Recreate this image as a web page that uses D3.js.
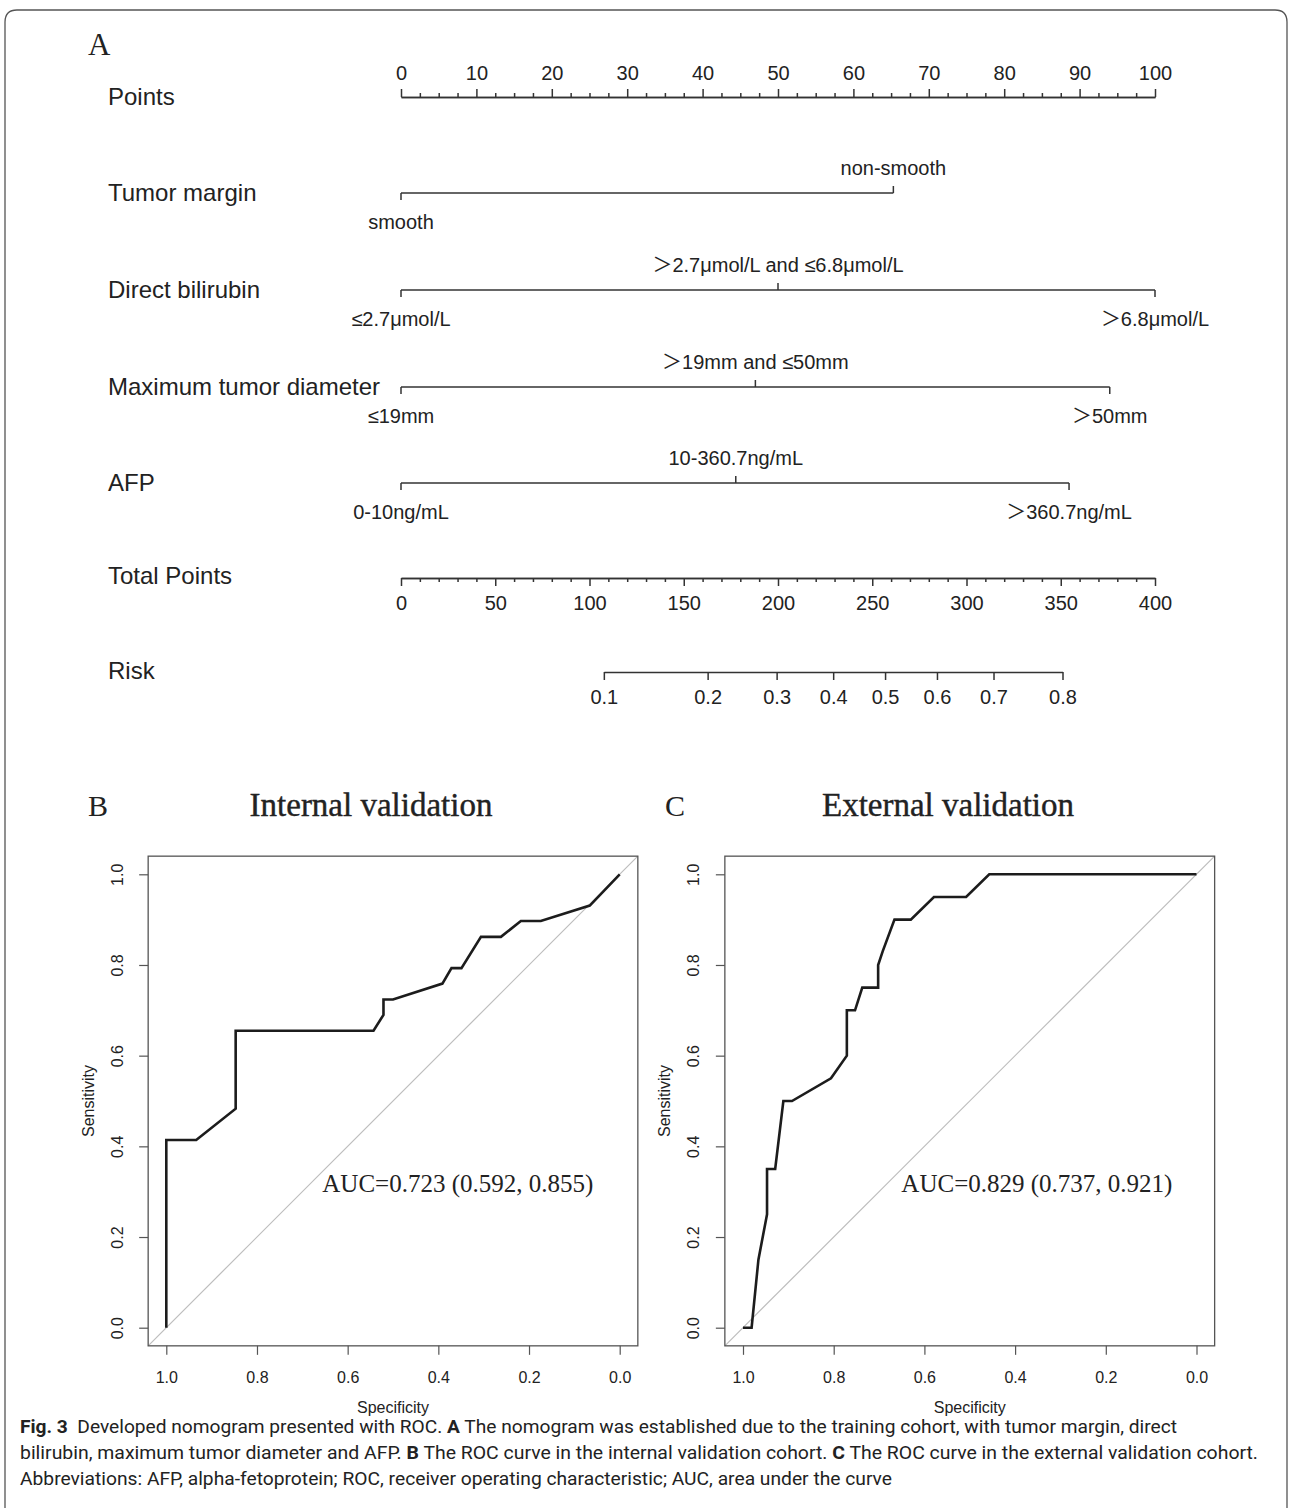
<!DOCTYPE html>
<html>
<head>
<meta charset="utf-8">
<script src="https://cdn.jsdelivr.net/npm/d3@7"></script>
<style>
	body { margin: 0; background: #fff; }
	svg { display: block; }
	text { fill: #222; }
</style>
</head>
<body>
<svg id="fig" width="1290" height="1508"></svg>
<script>
// Nomogram scales (tick labels)
const pointsTicks = [0, 10, 20, 30, 40, 50, 60, 70, 80, 90, 100];
const pointsMinorStep = 2.5;
const totalPointsTicks = [0, 50, 100, 150, 200, 250, 300, 350, 400];
const totalMinorStep = 10;
const riskTicks = [0.1, 0.2, 0.3, 0.4, 0.5, 0.6, 0.7, 0.8];
// total points where risk = 0.5 and points per unit of log-odds
const riskMidPoints = 256.8;
const pointsPerLogit = 67.9;

// Nomogram variables
const variableNames = ["Tumor margin", "Direct bilirubin", "Maximum tumor diameter", "AFP"];
const tumorMarginLevels = ["smooth", "non-smooth"];
const tumorMarginPoints = [0, 65.3];
const bilirubinLevels = ["≤2.7μmol/L", "＞2.7μmol/L and ≤6.8μmol/L", "＞6.8μmol/L"];
const bilirubinPoints = [0, 50, 100];
const diameterLevels = ["≤19mm", "＞19mm and ≤50mm", "＞50mm"];
const diameterPoints = [0, 47, 94];
const afpLevels = ["0-10ng/mL", "10-360.7ng/mL", "＞360.7ng/mL"];
const afpPoints = [0, 44.4, 88.6];

// ROC curves (specificity, sensitivity)
const internalSpec = [1, 1, 0.934, 0.847, 0.847, 0.543, 0.521, 0.521, 0.5, 0.391, 0.371, 0.349, 0.306, 0.262, 0.218, 0.174, 0.066, 0];
const internalSens = [0, 0.414, 0.414, 0.483, 0.655, 0.655, 0.69, 0.724, 0.724, 0.759, 0.793, 0.793, 0.862, 0.862, 0.897, 0.897, 0.931, 1];
const externalSpec = [1, 0.981, 0.966, 0.947, 0.947, 0.929, 0.911, 0.892, 0.806, 0.771, 0.771, 0.753, 0.737, 0.702, 0.702, 0.692, 0.666, 0.63, 0.579, 0.508, 0.457, 0];
const externalSens = [0, 0, 0.15, 0.25, 0.35, 0.35, 0.5, 0.5, 0.55, 0.6, 0.7, 0.7, 0.75, 0.75, 0.8, 0.83, 0.9, 0.9, 0.95, 0.95, 1, 1];
const internalAuc = "AUC=0.723 (0.592, 0.855)";
const externalAuc = "AUC=0.829 (0.737, 0.921)";
const rocTicks = [1, 0.8, 0.6, 0.4, 0.2, 0];

const svg = d3.select('#fig');
const sans = "'Liberation Sans', Arial, 'Noto Sans CJK SC', sans-serif";
const serif = "'Liberation Serif', 'Times New Roman', serif";
const ink = '#333';

// outer frame, open at the bottom
svg.append('path')
	.attr('d', 'M5,1508 L5,22 Q5,10 17,10 L1275,10 Q1287,10 1287,22 L1287,1508')
	.attr('fill', 'none')
	.attr('stroke', '#555')
	.attr('stroke-width', 1.3);

// ---------- A: nomogram ----------
const nomo = svg.append('g');
const pts = d3.scaleLinear().domain([0, 100]).range([401, 1155]);
const total = d3.scaleLinear().domain([0, 400]).range([401, 1155]);
const logit = (p) => Math.log(p / (1 - p));

nomo.append('text').attr('x', 88).attr('y', 55)
	.style('font-family', serif).style('font-size', '31px').text('A');

const rowLabel = (txt, y) => nomo.append('text')
	.attr('x', 108).attr('y', y).attr('dy', '0.35em')
	.style('font-family', sans).style('font-size', '24px').text(txt);

const styleAxis = (g) => {
	g.selectAll('path, line').attr('stroke', ink).attr('stroke-width', 1.5);
	g.selectAll('text').style('font-family', sans).style('font-size', '20px').attr('fill', '#222');
};

// Points
rowLabel('Points', 97);
const minorPts = d3.range(0, 100.01, pointsMinorStep).filter(v => !pointsTicks.includes(v));
nomo.append('g').attr('transform', 'translate(0,97)')
	.call(d3.axisTop(pts).tickValues(minorPts).tickSize(4).tickSizeOuter(0).tickFormat(''))
	.call(styleAxis);
nomo.append('g').attr('transform', 'translate(0,97)')
	.call(d3.axisTop(pts).tickValues(pointsTicks).tickSize(8).tickSizeOuter(0).tickPadding(9))
	.call(styleAxis);

// Variable rows
const rows = [
	{ name: variableNames[0], levels: tumorMarginLevels, points: tumorMarginPoints, y: 193 },
	{ name: variableNames[1], levels: bilirubinLevels, points: bilirubinPoints, y: 290 },
	{ name: variableNames[2], levels: diameterLevels, points: diameterPoints, y: 387 },
	{ name: variableNames[3], levels: afpLevels, points: afpPoints, y: 483 }
];
for (let r of rows) {
	rowLabel(r.name, r.y);
	let g = nomo.append('g');
	g.append('line')
		.attr('x1', pts(d3.min(r.points))).attr('x2', pts(d3.max(r.points)))
		.attr('y1', r.y).attr('y2', r.y)
		.attr('stroke', ink).attr('stroke-width', 1.5);
	r.levels.forEach((lv, i) => {
		let below = i % 2 === 0;
		let x = pts(r.points[i]);
		g.append('line')
			.attr('x1', x).attr('x2', x)
			.attr('y1', r.y).attr('y2', below ? r.y + 7 : r.y - 7)
			.attr('stroke', ink).attr('stroke-width', 1.5);
		g.append('text')
			.attr('x', x).attr('y', below ? r.y + 36 : r.y - 18)
			.attr('text-anchor', 'middle')
			.style('font-family', sans).style('font-size', '20px')
			.text(lv);
	});
}

// Total Points
rowLabel('Total Points', 576);
const minorTotal = d3.range(0, 400.01, totalMinorStep).filter(v => !totalPointsTicks.includes(v));
nomo.append('g').attr('transform', 'translate(0,578)')
	.call(d3.axisBottom(total).tickValues(minorTotal).tickSize(4).tickSizeOuter(0).tickFormat(''))
	.call(styleAxis);
nomo.append('g').attr('transform', 'translate(0,578)')
	.call(d3.axisBottom(total).tickValues(totalPointsTicks).tickSize(8).tickSizeOuter(0).tickPadding(10))
	.call(styleAxis);

// Risk
rowLabel('Risk', 671);
const riskLo = logit(riskTicks[0]), riskHi = logit(riskTicks[riskTicks.length - 1]);
const riskScale = d3.scaleLinear()
	.domain([riskLo, riskHi])
	.range([total(riskMidPoints + pointsPerLogit * riskLo), total(riskMidPoints + pointsPerLogit * riskHi)]);
nomo.append('g').attr('transform', 'translate(0,672)')
	.call(d3.axisBottom(riskScale).tickValues(riskTicks.map(logit)).tickSize(8).tickSizeOuter(0).tickPadding(10)
		.tickFormat((d, i) => riskTicks[i]))
	.call(styleAxis);

// ---------- B, C: ROC panels ----------
const drawRoc = (opts) => {
	let g = svg.append('g');
	let x = d3.scaleLinear().domain([1, 0]).range(opts.xRange);
	let y = d3.scaleLinear().domain([0, 1]).range([1327.7, 874.3]);

	g.append('text').attr('x', opts.letterX).attr('y', 816)
		.style('font-family', serif).style('font-size', '30px').text(opts.letter);
	g.append('text').attr('x', opts.titleX).attr('y', 816).attr('text-anchor', 'middle')
		.style('font-family', serif).style('font-size', '33px')
		.attr('stroke', '#222').attr('stroke-width', 0.4)
		.text(opts.title);

	// diagonal reference
	g.append('line')
		.attr('x1', x(1.04)).attr('y1', y(-0.04))
		.attr('x2', x(-0.04)).attr('y2', y(1.04))
		.attr('stroke', '#bdbdbd').attr('stroke-width', 1.2);

	// box
	g.append('rect')
		.attr('x', x(1.04)).attr('y', y(1.04))
		.attr('width', x(-0.04) - x(1.04)).attr('height', y(-0.04) - y(1.04))
		.attr('fill', 'none').attr('stroke', '#555').attr('stroke-width', 1.3);

	// axes
	let xAxis = g.append('g').attr('transform', `translate(0,${y(-0.04)})`)
		.call(d3.axisBottom(x).tickValues(rocTicks).tickFormat(d3.format('.1f')).tickSize(9).tickPadding(17));
	let yAxis = g.append('g').attr('transform', `translate(${x(1.04)},0)`)
		.call(d3.axisLeft(y).tickValues(rocTicks).tickFormat(d3.format('.1f')).tickSize(9));
	for (let a of [xAxis, yAxis]) {
		a.select('.domain').remove();
		a.selectAll('line').attr('stroke', '#555').attr('stroke-width', 1.2);
		a.selectAll('text').style('font-family', sans).style('font-size', '16px').attr('fill', '#222');
	}
	yAxis.selectAll('text')
		.attr('transform', 'rotate(-90)')
		.attr('x', 0).attr('y', opts.tickLabX - x(1.04))
		.attr('dy', '0.35em')
		.attr('text-anchor', 'middle');

	g.append('text').attr('x', (x(1) + x(0)) / 2).attr('y', 1413).attr('text-anchor', 'middle')
		.style('font-family', sans).style('font-size', '16px').text('Specificity');
	g.append('text')
		.attr('transform', `translate(${opts.ylabX},${y(0.5)}) rotate(-90)`)
		.attr('dy', '0.35em').attr('text-anchor', 'middle')
		.style('font-family', sans).style('font-size', '16px').text('Sensitivity');

	// curve
	let line = d3.line().x((d) => x(d[0])).y((d) => y(d[1]));
	g.append('path')
		.datum(opts.spec.map((s, i) => [s, opts.sens[i]]))
		.attr('d', line)
		.attr('fill', 'none')
		.attr('stroke', '#1c1c1c')
		.attr('stroke-width', 2.6)
		.attr('stroke-linejoin', 'miter');

	g.append('text')
		.attr('x', x(opts.aucSpec)).attr('y', y(0.3))
		.attr('text-anchor', 'middle')
		.style('font-family', serif).style('font-size', '25px')
		.text(opts.auc);
};

drawRoc({
	letter: 'B', letterX: 88, title: 'Internal validation', titleX: 371,
	xRange: [166.3, 619.7], tickLabX: 117, ylabX: 88,
	spec: internalSpec, sens: internalSens, auc: internalAuc, aucSpec: 0.357
});
drawRoc({
	letter: 'C', letterX: 665, title: 'External validation', titleX: 948,
	xRange: [743, 1196.5], tickLabX: 693, ylabX: 664,
	spec: externalSpec, sens: externalSens, auc: externalAuc, aucSpec: 0.352
});

// ---------- caption ----------
const captionLines = [
	[['Fig. 3', true], ['  Developed nomogram presented with ROC. ', false], ['A', true],
		[' The nomogram was established due to the training cohort, with tumor margin, direct', false]],
	[['bilirubin, maximum tumor diameter and AFP. ', false], ['B', true],
		[' The ROC curve in the internal validation cohort. ', false], ['C', true],
		[' The ROC curve in the external validation cohort.', false]],
	[['Abbreviations: AFP, alpha-fetoprotein; ROC, receiver operating characteristic; AUC, area under the curve', false]]
];
const captionWidths = [1157, 1238, 872];
captionLines.forEach((parts, i) => {
	let t = svg.append('text')
		.attr('x', 20).attr('y', 1433 + i * 26)
		.attr('textLength', captionWidths[i])
		.attr('lengthAdjust', 'spacingAndGlyphs')
		.style('font-family', "Roboto, 'Noto Sans', sans-serif")
		.style('font-size', '18px')
		.style('white-space', 'pre');
	for (let [s, bold] of parts) {
		t.append('tspan').attr('font-weight', bold ? 700 : 400).text(s);
	}
});
</script>
</body>
</html>
